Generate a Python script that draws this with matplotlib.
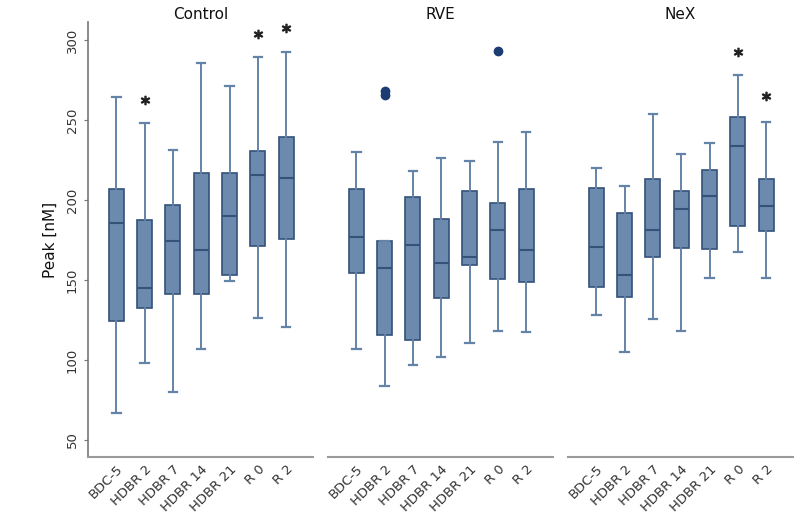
import matplotlib
matplotlib.use("Agg")
import matplotlib.pyplot as plt

categories = ["BDC-5", "HDBR 2", "HDBR 7", "HDBR 14", "HDBR 21", "R 0", "R 2"]
groups = ["Control", "RVE", "NeX"]

# summary statistics per group: whisker low, Q1, median, Q3, whisker high
control_low = [67, 98, 80, 107, 149.6, 126, 120.4]
control_q1 = [124.6, 132.3, 141.2, 141.2, 153.1, 171.2, 175.4]
control_med = [185.8, 145.2, 174.6, 168.7, 190.2, 215.6, 213.9]
control_q3 = [206.9, 187.5, 196.9, 216.7, 217.1, 230.8, 239.2]
control_high = [264.6, 248.3, 231.2, 285.8, 271.2, 289.2, 292.7]

rve_low = [106.9, 84, 96.9, 102, 110.4, 118.1, 117.5]
rve_q1 = [154.6, 115.6, 112.5, 139, 159.4, 150.4, 148.5]
rve_med = [176.7, 157.3, 171.9, 160.4, 164.6, 181, 168.7]
rve_q3 = [206.7, 174.6, 202.1, 188.1, 205.8, 197.9, 206.9]
rve_high = [229.8, 174.6, 218.1, 226, 224.2, 236, 242.5]

nex_low = [127.9, 104.8, 125.4, 118.3, 151.4, 167.7, 151]
nex_q1 = [145.8, 139.6, 164.6, 170, 169.6, 183.7, 180.8]
nex_med = [170.8, 153.1, 181.2, 194.2, 202.5, 233.9, 196.4]
nex_q3 = [207.7, 192.1, 212.9, 205.8, 218.7, 252.1, 212.9]
nex_high = [219.8, 208.7, 253.5, 228.5, 235.8, 278.1, 248.9]

# outliers (dots) per category index
rve_outliers = {1: [268, 265.5], 5: [293.3]}
# significance asterisks: (category index, value)
control_stars = [(1, 262.5), (5, 303.5), (6, 307.3)]
rve_stars = []
nex_stars = [(5, 292.3), (6, 265.2)]

data = {
    "Control": (control_low, control_q1, control_med, control_q3, control_high, {}, control_stars),
    "RVE": (rve_low, rve_q1, rve_med, rve_q3, rve_high, rve_outliers, rve_stars),
    "NeX": (nex_low, nex_q1, nex_med, nex_q3, nex_high, {}, nex_stars),
}

fill = "#6b8aad"
edge = "#34527a"
whisk = "#6383a8"
outc = "#1c3d72"
spine_c = "#9a9a9a"
text_c = "#333333"

fig = plt.figure(figsize=(8, 5.22), dpi=100)
lefts = [88 / 800, 328 / 800, 568 / 800]
w = 225 / 800
b = 1 - 457 / 522
h = (457 - 22) / 522

for i, g in enumerate(groups):
    ax = fig.add_axes([lefts[i], b, w, h])
    lo, q1, med, q3, hi, outl, stars = data[g]
    stats = []
    for k, c in enumerate(categories):
        stats.append(dict(label=c, whislo=lo[k], q1=q1[k], med=med[k],
                          q3=q3[k], whishi=hi[k], fliers=outl.get(k, [])))
    ax.bxp(stats, positions=range(len(categories)), widths=0.53,
           patch_artist=True, capwidths=0.3,
           boxprops=dict(facecolor=fill, edgecolor=edge, linewidth=1.2),
           medianprops=dict(color=edge, linewidth=1.5),
           whiskerprops=dict(color=whisk, linewidth=1.4),
           capprops=dict(color=whisk, linewidth=1.6),
           flierprops=dict(marker="o", markerfacecolor=outc, markeredgecolor=outc,
                           markersize=6))
    for k, v in stars:
        ax.plot(k, v, marker="$*$", color="#222222", markersize=6, linestyle="none")
    ax.set_xlim(-1.0, 6.95)
    ax.set_ylim(39.4, 311.25)
    ax.set_title(g, fontsize=11, color="#111111", pad=2)
    for s in ["top", "right"]:
        ax.spines[s].set_visible(False)
    ax.spines["bottom"].set_color(spine_c)
    ax.spines["bottom"].set_linewidth(1.5)
    ax.set_xticks(range(len(categories)))
    ax.set_xticklabels(categories, rotation=45, ha="right", rotation_mode="anchor",
                       fontsize=9.5, color=text_c)
    ax.tick_params(axis="x", length=0, pad=4)
    if i == 0:
        ax.spines["left"].set_color("#777777")
        ax.spines["left"].set_linewidth(1.2)
        ax.set_yticks([50, 100, 150, 200, 250, 300])
        ax.tick_params(axis="y", length=3, color="#777777", labelsize=9.5,
                       labelcolor=text_c)
        for t in ax.get_yticklabels():
            t.set_rotation(90)
            t.set_va("center")
        ax.set_ylabel("Peak [nM]", fontsize=11, color="#111111", labelpad=6)
    else:
        ax.spines["left"].set_visible(False)
        ax.set_yticks([])
    ax.set_facecolor("none")

fig.savefig("out.png", dpi=100)
